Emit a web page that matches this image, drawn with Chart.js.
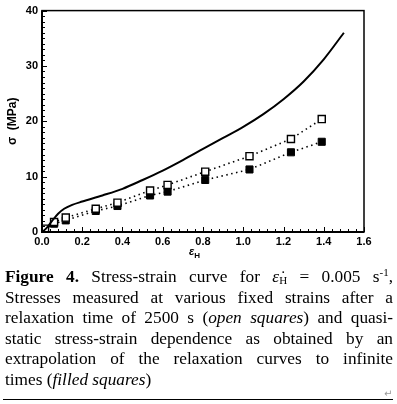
<!DOCTYPE html>
<html>
<head>
<meta charset="utf-8">
<script src="https://cdn.jsdelivr.net/npm/chart.js@4.4.0/dist/chart.umd.min.js"></script>
<style>
  html, body { margin: 0; padding: 0; background: #fff; }
  #wrap { position: relative; width: 397px; height: 404px; overflow: hidden; }
  #box { position: absolute; left: 0; top: 0; width: 397px; height: 262px; }
  #xtitle { position: absolute; left: 189px; top: 245px; font: bold 11px "Liberation Sans", Arial, sans-serif; font-style: italic; }
  #xtitle sub { font-size: 8px; font-style: normal; vertical-align: -3px; }
  #caption { position: absolute; left: 5px; top: 267px; width: 388px; font-family: "Liberation Serif", "Times New Roman", serif; font-size: 17.3px; color: #000; }
  #caption div { height: 20.5px; line-height: 20.5px; text-align: justify; text-align-last: justify; white-space: nowrap; }
  #caption div.last { text-align-last: left; }
  #caption sub { font-size: 11px; vertical-align: -2px; line-height: 0; }
  #caption sup { font-size: 11px; vertical-align: 6px; line-height: 0; }
  #rule { position: absolute; left: 3px; top: 399px; width: 390px; height: 1px; background: #000; }
  #ret { position: absolute; left: 384px; top: 388px; font: 10px "DejaVu Sans", sans-serif; color: #999; }
</style>
</head>
<body>
<div id="wrap">
  <div id="box"><canvas id="grafico"></canvas></div>
  <div id="xtitle">ε<sub>H</sub></div>
  <div id="caption">
    <div><b>Figure 4.</b> Stress-strain curve for <i>ε̇</i><sub>H</sub> = 0.005 s<sup>-1</sup>,</div>
    <div>Stresses measured at various fixed strains after a</div>
    <div>relaxation time of 2500 s (<i>open squares</i>) and quasi-</div>
    <div>static stress-strain dependence as obtained by an</div>
    <div>extrapolation of the relaxation curves to infinite</div>
    <div class="last">times (<i>filled squares</i>)</div>
  </div>
  <div id="ret">↵</div>
  <div id="rule"></div>
</div>
<script>
// curva tensao-deformacao continua
const curvaEps = [0, 0.02, 0.05, 0.08, 0.11, 0.15, 0.2, 0.3, 0.4, 0.5, 0.6, 0.7, 0.8, 0.9, 1.0, 1.1, 1.2, 1.3, 1.4, 1.5];
const curvaSigma = [0, 0.6, 2.0, 3.3, 4.2, 4.9, 5.5, 6.6, 7.8, 9.4, 11.1, 13.0, 15.0, 17.0, 19.0, 21.3, 24.0, 27.2, 31.2, 36.0];

// deformacoes fixas dos ensaios de relaxacao
const pontosEps = [0.015, 0.06, 0.118, 0.267, 0.375, 0.537, 0.624, 0.811, 1.031, 1.237, 1.39];
const abertosSigma = [0.6, 1.8, 2.6, 4.2, 5.3, 7.5, 8.5, 10.9, 13.7, 16.8, 20.4];
const cheiosSigma = [0.4, 1.5, 2.1, 3.8, 4.7, 6.6, 7.3, 9.4, 11.3, 14.4, 16.3];

const xTicks = [0, 0.2, 0.4, 0.6, 0.8, 1.0, 1.2, 1.4, 1.6];
const yTicks = [0, 10, 20, 30, 40];

const pares = (xs, ys) => xs.map((x, i) => ({ x: x, y: ys[i] }));

// moldura e tracos de escala para dentro
const moldura = {
    id: "moldura",
    afterDraw(chart) {
        const ctx = chart.ctx;
        const a = chart.chartArea;
        const sx = chart.scales.x, sy = chart.scales.y;
        ctx.save();
        ctx.strokeStyle = "#000";
        ctx.lineWidth = 1.5;
        ctx.strokeRect(a.left, a.top, a.right - a.left, a.bottom - a.top);
        ctx.lineWidth = 2;
        ctx.beginPath();
        ctx.moveTo(a.left, a.top); ctx.lineTo(a.left, a.bottom); ctx.lineTo(a.right, a.bottom);
        ctx.stroke();
        ctx.lineWidth = 1;
        ctx.beginPath();
        for (let v = 0; v <= 1.6001; v += 0.04) {
            const px = Math.round(sx.getPixelForValue(v)) + 0.5;
            const major = Math.abs(v / 0.2 - Math.round(v / 0.2)) < 1e-6;
            ctx.moveTo(px, a.bottom); ctx.lineTo(px, a.bottom - (major ? 5 : 3));
        }
        for (let v = 0; v <= 40.001; v += 1) {
            const py = Math.round(sy.getPixelForValue(v)) + 0.5;
            const major = v % 10 === 0;
            ctx.moveTo(a.left, py); ctx.lineTo(a.left + (major ? 5 : 3), py);
        }
        ctx.stroke();
        ctx.restore();
    }
};

const fonteEixo = { family: "'Liberation Sans', Arial, sans-serif", size: 11, weight: "bold" };

new Chart(document.getElementById("grafico").getContext("2d"), {
    type: "scatter",
    data: {
        datasets: [
            {
                label: "curva",
                data: pares(curvaEps, curvaSigma),
                showLine: true,
                borderColor: "#000",
                borderWidth: 2,
                pointRadius: 0,
                cubicInterpolationMode: "monotone",
                fill: false
            },
            {
                label: "open squares",
                data: pares(pontosEps, abertosSigma),
                showLine: true,
                borderColor: "#000",
                borderWidth: 1.6,
                borderDash: [1.5, 3.5],
                pointStyle: "rect",
                pointRadius: 5,
                pointBackgroundColor: "#fff",
                pointBorderColor: "#000",
                pointBorderWidth: 1.4,
                fill: false
            },
            {
                label: "filled squares",
                data: pares(pontosEps, cheiosSigma),
                showLine: true,
                borderColor: "#000",
                borderWidth: 1.6,
                borderDash: [1.5, 3.5],
                pointStyle: "rect",
                pointRadius: 5,
                pointBackgroundColor: "#000",
                pointBorderColor: "#000",
                pointBorderWidth: 1,
                fill: false
            }
        ]
    },
    options: {
        responsive: true,
        maintainAspectRatio: false,
        animation: false,
        layout: { padding: { top: 6, right: 33, left: 5, bottom: 0 } },
        plugins: { legend: { display: false }, tooltip: { enabled: false } },
        scales: {
            x: {
                type: "linear",
                min: 0, max: 1.6,
                afterBuildTicks: s => { s.ticks = xTicks.map(v => ({ value: v })); },
                afterFit: s => { s.height = 30; },
                grid: { display: false, drawTicks: false },
                border: { display: false },
                ticks: { color: "#000", font: fonteEixo, padding: 3, maxRotation: 0, callback: v => v.toFixed(1) }
            },
            y: {
                type: "linear",
                min: 0, max: 40,
                afterBuildTicks: s => { s.ticks = yTicks.map(v => ({ value: v })); },
                afterFit: s => { s.width = 37; },
                grid: { display: false, drawTicks: false },
                border: { display: false },
                title: { display: true, text: "σ  (MPa)", color: "#000", font: { family: "'Liberation Sans', Arial, sans-serif", size: 12, weight: "bold" }, padding: { top: 0, bottom: 0 } },
                ticks: { color: "#000", font: fonteEixo, padding: 4 }
            }
        }
    },
    plugins: [moldura]
});
</script>
</body>
</html>
